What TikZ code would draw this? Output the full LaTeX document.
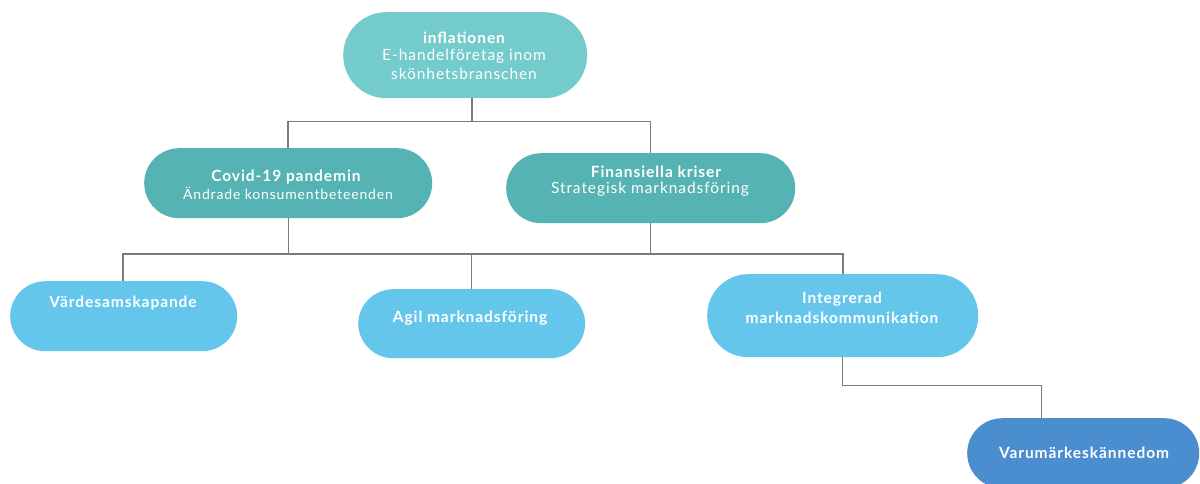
\documentclass[tikz,border=0pt]{standalone}
\usepackage{fontspec}
\setmainfont{Lato}[LetterSpace=6]
\begin{document}
\begin{tikzpicture}[x=1pt,y=-1pt,
  box/.style={draw=none,rounded corners=#1,inner sep=0pt,anchor=north west},
  box/.default=35pt,
  link/.style={draw=linegray,line width=1.3pt},
  ttl/.style={text=white,font=\fontsize{15.5}{18}\selectfont\bfseries,inner sep=0pt},
  sub/.style={text=white,font=\fontsize{15.5}{18}\selectfont,inner sep=0pt}]
\definecolor{tealA}{HTML}{74CBCB}
\definecolor{tealB}{HTML}{55B3B3}
\definecolor{skyA}{HTML}{65C6EC}
\definecolor{blueA}{HTML}{4A8ED0}
\definecolor{linegray}{HTML}{7A7A7A}
\useasboundingbox[fill=white] (0,0) rectangle (1200,483);
\clip (0,0) rectangle (1200,483);

% boxes
\node[box=43pt,fill=tealA,minimum width=244pt,minimum height=86pt] (infl) at (343,12) {};
\node[box,fill=tealB,minimum width=288pt,minimum height=70pt] (covid) at (144,148) {};
\node[box,fill=tealB,minimum width=289pt,minimum height=70pt] (fin) at (506,153) {};
\node[box,fill=skyA,minimum width=227pt,minimum height=70pt] (varde) at (10,281) {};
\node[box,fill=skyA,minimum width=227pt,minimum height=69pt] (agil) at (358,289) {};
\node[box=41pt,fill=skyA,minimum width=271pt,minimum height=83pt] (integ) at (707,274) {};
\node[box,fill=blueA,minimum width=232pt,minimum height=70pt] (varum) at (967,418) {};

% connectors
\coordinate (j1) at (472,121.5);
\coordinate (j2) at (472,254);
\draw[link] (472,98) -- (j1);
\draw[link] (288,148) |- (650.5,121.5) -- (650.5,153);
\draw[link] (288.5,218) -- (288.5,254);
\draw[link] (650.5,223) -- (650.5,254);
\draw[link] (123,281) |- (843,254) -- (843,274);
\draw[link] (471.5,254) -- (471.5,289);
\draw[link] (842.5,357) |- (1041.5,385.5) -- (1041.5,418);

% texts
\node[ttl] (t1) at (464,38) {inflationen};
\node[sub] (t2) at (464,56) {E-handelföretag inom};
\node[sub] (t3) at (464,73.5) {skönhetsbranschen};
\node[ttl] (t4) at (286,177) {Covid-19 pandemin};
\node[sub,font=\fontsize{14}{17}\selectfont] (t5) at (288,193.5) {Ändrade konsumentbeteenden};
\node[ttl] (t6) at (656,172) {Finansiella kriser};
\node[sub] (t7) at (650,189) {Strategisk marknadsföring};
\node[ttl] (t8) at (123,303) {Värdesamskapande};
\node[ttl] (t9) at (470,318) {Agil marknadsföring};
\node[ttl] (t10) at (842,299.5) {Integrerad};
\node[ttl] (t11) at (842,318) {marknadskommunikation};
\node[ttl] (t12) at (1084,453) {Varumärkeskännedom};
\end{tikzpicture}
\end{document}
